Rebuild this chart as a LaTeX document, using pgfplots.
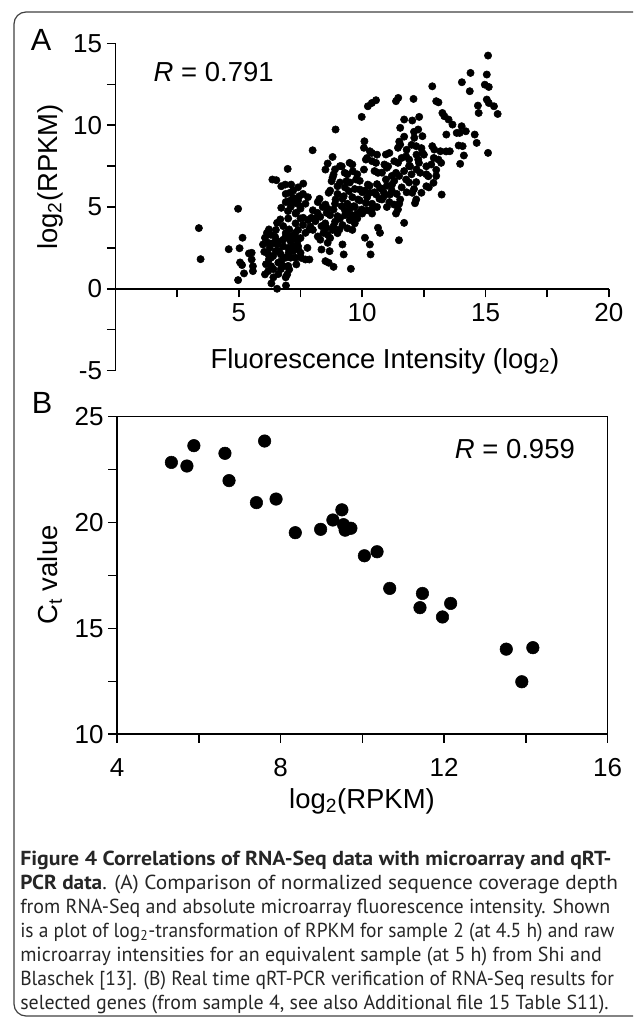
\documentclass[border=0pt]{standalone}
\usepackage{fontspec}
\setmainfont{Liberation Sans}
\newfontfamily\capfont{PT Sans}
\usepackage{pgfplots}
\usepackage{pgfplotstable}
\pgfplotsset{compat=1.18}

\pgfplotstableread{
x y
3.38 3.71
3.45 1.81
4.97 4.89
4.59 2.42
5.03 2.48
5.15 3.12
4.97 0.53
5.05 1.61
5.13 1.45
5.21 0.94
5.41 2.16
5.52 2.20
5.52 1.79
5.57 1.38
5.57 1.08
5.98 2.71
6.03 2.26
6.06 3.12
6.14 3.42
6.22 3.63
6.19 2.81
6.25 2.50
6.06 0.88
6.19 1.08
6.31 1.38
6.22 1.79
6.39 2.00
6.32 0.33
6.55 0.00
6.47 3.18
6.55 2.71
6.63 2.30
6.72 1.69
6.80 1.38
6.91 0.20
6.96 0.88
7.04 1.18
6.72 4.95
6.36 6.68
6.52 6.64
6.72 6.27
6.88 6.37
6.98 7.33
7.12 6.37
7.07 5.87
7.21 5.56
7.04 5.36
7.29 5.25
7.45 5.66
7.61 6.43
7.48 5.05
6.99 4.75
7.32 4.64
6.68 4.24
6.55 4.03
6.80 3.83
7.04 3.63
6.88 3.12
7.12 3.22
7.29 3.42
7.37 2.91
7.21 2.61
7.02 2.20
7.41 2.40
7.53 1.89
7.33 1.49
7.70 1.79
7.78 2.50
7.86 1.79
7.61 4.34
7.70 3.42
7.99 8.47
7.94 4.34
7.86 3.63
8.10 4.13
8.19 4.64
8.27 5.50
8.35 3.83
8.43 3.42
8.55 3.73
8.60 2.81
8.68 2.30
8.35 2.40
8.51 1.69
8.84 1.34
8.64 1.59
9.54 1.22
9.25 2.10
9.20 2.71
8.51 5.15
8.56 4.64
8.64 5.87
8.60 7.66
8.51 7.29
8.80 8.06
8.92 9.74
8.84 6.99
8.76 6.58
9.00 6.27
8.92 5.46
8.84 4.85
9.00 4.44
8.84 3.83
9.08 3.63
9.17 5.05
9.25 5.66
9.17 7.49
9.29 7.09
9.36 6.58
9.46 5.97
9.49 7.70
9.41 4.64
9.52 4.24
9.66 5.05
9.75 6.68
9.62 7.19
9.83 5.46
9.90 6.07
9.98 4.85
10.07 8.62
9.98 10.51
10.09 9.02
10.15 7.90
10.07 7.29
10.23 6.37
10.31 5.87
10.15 5.25
10.39 4.85
10.11 3.12
10.31 2.71
10.34 2.10
10.64 3.73
10.72 3.42
10.23 11.16
10.39 11.36
10.56 11.53
10.31 8.41
10.39 8.31
10.56 7.70
10.64 7.09
10.72 6.17
10.56 5.77
10.80 5.46
10.88 5.87
10.96 8.21
11.05 7.49
10.96 6.68
11.13 5.77
11.21 6.37
11.29 5.15
11.37 4.60
11.45 4.85
11.49 2.97
11.54 5.46
11.37 7.09
11.45 7.70
11.54 8.82
11.45 8.62
11.54 9.84
11.37 11.47
11.46 11.67
11.70 4.03
11.70 10.35
11.78 8.10
11.78 6.68
11.94 7.49
12.03 5.87
12.08 11.61
12.03 10.29
12.11 9.23
12.19 8.72
12.27 9.74
12.31 10.51
12.44 9.33
12.27 7.90
12.35 7.09
12.19 6.52
12.19 5.46
12.14 5.23
12.40 5.87
12.44 8.31
12.60 7.49
12.68 6.88
12.60 6.27
12.84 12.38
13.00 11.47
13.09 11.40
12.84 8.72
12.92 8.51
12.89 6.48
13.00 7.27
13.09 7.90
13.17 8.41
13.22 5.76
13.25 10.75
13.33 10.55
13.41 9.43
13.50 10.35
13.55 8.41
13.66 10.04
13.83 9.53
13.91 8.76
13.95 9.53
14.03 9.94
13.97 7.64
14.07 8.72
14.12 8.15
14.20 9.63
14.04 12.63
14.39 13.20
14.36 12.08
14.56 9.43
14.64 8.92
14.69 11.20
14.72 10.75
14.97 12.48
15.05 13.10
15.10 14.26
15.13 12.34
15.05 11.57
15.13 11.36
15.10 8.31
15.34 11.16
15.49 10.69
6.10 1.50
6.30 1.90
6.40 1.20
6.50 2.30
6.60 1.60
6.60 2.90
6.70 2.10
6.80 2.60
6.90 1.90
6.90 3.40
7.00 2.50
7.00 1.40
7.10 2.90
7.10 1.90
7.20 2.30
7.30 3.10
7.30 1.90
7.40 2.60
7.40 3.60
7.50 2.20
7.50 3.10
6.40 2.80
6.50 3.60
6.30 3.30
6.20 2.10
6.80 3.00
6.70 1.20
6.90 0.70
6.60 0.90
6.40 0.70
6.90 5.80
7.10 5.00
7.20 6.00
7.30 4.60
7.40 5.40
7.50 4.90
7.60 5.80
7.70 5.20
7.80 4.20
7.90 3.80
7.60 3.90
7.50 4.30
7.30 4.00
7.00 4.30
6.90 5.30
7.80 5.60
7.20 5.50
7.40 6.20
8.00 3.60
8.10 4.30
8.20 3.20
8.30 4.40
8.40 5.00
8.50 4.00
8.60 3.30
8.70 4.50
8.80 3.60
8.90 4.10
8.00 4.80
8.20 5.30
8.60 4.90
8.90 5.20
8.30 3.00
8.70 3.10
8.70 6.00
8.80 6.80
8.90 7.30
9.00 5.80
9.10 6.50
9.20 5.50
9.30 6.20
9.40 7.00
9.50 6.50
9.60 5.60
9.70 6.10
9.80 7.00
9.90 6.60
10.00 5.90
9.10 7.50
9.40 5.20
9.60 7.60
9.30 4.80
9.50 4.90
9.70 5.00
9.80 4.60
9.90 5.40
9.10 4.30
9.20 3.90
9.30 4.50
9.40 3.70
9.50 4.20
9.60 4.50
9.70 4.00
9.80 4.30
10.00 4.60
10.20 4.80
10.40 4.60
9.00 3.40
9.60 3.60
10.10 6.00
10.20 5.60
10.30 6.30
10.40 5.20
10.50 5.90
10.60 6.40
10.70 5.50
10.80 6.10
10.90 5.70
11.00 6.30
11.10 5.30
11.20 6.00
11.30 6.60
11.40 5.80
11.50 6.90
11.60 6.20
11.70 7.20
11.80 5.90
11.90 6.50
12.00 7.00
11.50 5.20
10.80 7.10
11.00 7.40
10.50 7.20
11.20 6.90
11.90 7.50
12.10 6.10
12.20 7.30
10.60 5.00
11.00 5.00
10.20 8.00
10.40 7.80
10.60 8.20
10.90 7.60
11.10 8.30
11.30 7.80
11.60 8.00
11.80 8.50
11.90 7.90
12.00 8.80
12.20 8.20
12.30 7.70
11.50 9.00
11.70 9.30
12.10 9.60
12.40 8.60
12.60 7.00
12.80 7.60
12.90 8.00
13.00 6.90
13.20 7.70
13.40 8.40
12.70 6.20
12.50 8.20
}\tableA

\pgfplotstableread{
x y
5.33 22.84
5.71 22.67
5.88 23.63
6.64 23.27
6.74 21.98
7.61 23.85
7.41 20.94
7.89 21.11
8.36 19.52
8.98 19.68
9.28 20.12
9.50 20.60
9.54 19.90
9.58 19.64
9.72 19.73
10.05 18.43
10.36 18.62
10.67 16.89
11.47 16.65
11.41 15.98
11.96 15.54
12.16 16.18
13.52 14.02
14.17 14.09
13.90 12.48
}\tableB

\newcommand\tickfont{\fontsize{19.5pt}{22pt}\selectfont}
\newcommand\labfont{\fontsize{20.6pt}{24pt}\selectfont}
\newcommand\capsize{\capfont\fontsize{15.2pt}{17.5pt}\selectfont}

\begin{document}
\begin{tikzpicture}
\useasboundingbox (0,0) rectangle (474.75pt,-765pt);
\clip (0,0) rectangle (474.75pt,-765pt);
\draw[line width=0.9pt, black!75, rounded corners=9pt] (10.5pt,-9pt) rectangle (490pt,-762pt);

% Panel A
\begin{axis}[
  at={(86.6pt,-277.9pt)}, anchor=south west,
  scale only axis, width=370.1pt, height=245.3pt,
  xmin=0, xmax=20, ymin=-5, ymax=15,
  axis x line*=middle, axis y line*=left,
  axis line style={line width=1.2pt},
  xtick={5,10,15,20}, minor xtick={2.5,7.5,12.5,17.5},
  ytick={-5,0,5,10,15}, minor ytick={-2.5,2.5,7.5,12.5},
  tick align=outside,
  major tick length=6.5pt, minor tick length=6.5pt,
  every tick/.style={line width=1.2pt, black},
  tick label style={font=\tickfont},
  /pgf/number format/assume math mode=true,
  xticklabel style={yshift=-1pt},
  clip=false,
]
\addplot[only marks, mark=*, mark size=2.75pt, black] table[x=x,y=y] {\tableA};
\node[anchor=base, font=\labfont] at (axis cs:10.92,-4.87) {Fluorescence Intensity (log\textsubscript{2})};
\node[anchor=base west, font=\labfont] at (axis cs:1.36,12.67) {\textit{R} = 0.791};
\end{axis}
\node[rotate=90, font=\labfont] at (37.5pt,-132.75pt) {log\textsubscript{2}(RPKM)};
\node[font=\fontsize{23pt}{26pt}\selectfont] at (30.75pt,-30pt) {A};

% Panel B
\begin{axis}[
  at={(87.75pt,-550.7pt)}, anchor=south west,
  scale only axis, width=368pt, height=238.2pt,
  xmin=4, xmax=16, ymin=10, ymax=25,
  axis line style={line width=1.2pt},
  xtick={4,8,12,16}, minor xtick={6,10,14},
  ytick={10,15,20,25}, minor ytick={12.5,17.5,22.5},
  xtick pos=bottom, ytick pos=left,
  tick align=outside,
  major tick length=6.5pt, minor tick length=6.5pt,
  every tick/.style={line width=1.2pt, black},
  tick label style={font=\tickfont},
  xticklabel style={yshift=-8pt},
  /pgf/number format/assume math mode=true,
  clip=false,
]
\addplot[only marks, mark=*, mark size=4.7pt, black] table[x=x,y=y] {\tableB};
\node[anchor=base west, font=\labfont] at (axis cs:12.15,23.02) {\textit{R} = 0.959};
\end{axis}
\node[rotate=90, font=\labfont] at (37.5pt,-431.25pt) {C\textsubscript{t} value};
\node[anchor=base, font=\labfont] at (271.5pt,-606pt) {log\textsubscript{2}(RPKM)};
\node[font=\fontsize{23pt}{26pt}\selectfont] at (31.5pt,-302.25pt) {B};

% Caption, one node per line
\begin{scope}[every node/.style={anchor=base west, inner sep=0pt, font=\capsize, text=black!85}]
\node at (15pt,-648.75pt) {\scalebox{1.075}[1]{\textbf{Figure 4 Correlations of RNA-Seq data with microarray and qRT-}}};
\node at (15pt,-666.75pt) {\scalebox{1.05}[1]{\textbf{PCR data}. (A) Comparison of normalized sequence coverage depth}};
\node at (15pt,-684.75pt) {\scalebox{0.985}[1]{from RNA-Seq and absolute microarray fluorescence intensity. Shown}};
\node at (15pt,-702.75pt) {\scalebox{0.96}[1]{is a plot of log\textsubscript{2}-transformation of RPKM for sample 2 (at 4.5 h) and raw}};
\node at (15pt,-720.75pt) {\scalebox{0.985}[1]{microarray intensities for an equivalent sample (at 5 h) from Shi and}};
\node at (15pt,-738.75pt) {\scalebox{0.965}[1]{Blaschek [13]. (B) Real time qRT-PCR verification of RNA-Seq results for}};
\node at (15pt,-756.75pt) {\scalebox{0.983}[1]{selected genes (from sample 4, see also Additional file 15 Table S11).}};
\end{scope}
\end{tikzpicture}
\end{document}
